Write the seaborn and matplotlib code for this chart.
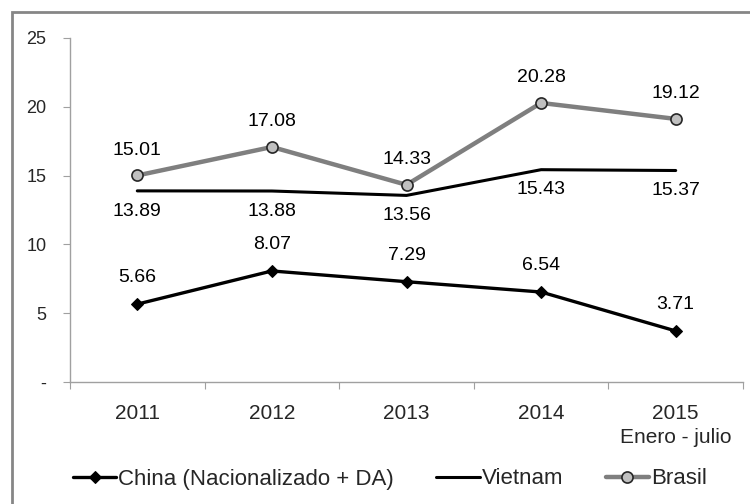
import matplotlib
matplotlib.use("Agg")
import matplotlib.pyplot as plt
import seaborn as sns
import pandas as pd
from matplotlib.patches import Rectangle
from matplotlib.ticker import FixedLocator, NullFormatter

categories = ["2011", "2012", "2013", "2014", "2015\nEnero - julio"]
china = [5.66, 8.07, 7.29, 6.54, 3.71]
vietnam = [13.89, 13.88, 13.56, 15.43, 15.37]
brasil = [15.01, 17.08, 14.33, 20.28, 19.12]
y_ticks = [0, 5, 10, 15, 20, 25]
y_tick_labels = ["-", "5", "10", "15", "20", "25"]

sns.set_style("white")
plt.rcParams["font.family"] = ["Liberation Sans", "DejaVu Sans"]

fig = plt.figure(figsize=(7.5, 5.04), dpi=100)
ax = fig.add_axes([70/750, 1-382/504, (743-70)/750, (382-38)/504])

pos = list(range(len(categories)))
df = pd.DataFrame({"x": pos, "China": china, "Vietnam": vietnam, "Brasil": brasil})

sns.lineplot(data=df, x="x", y="China", ax=ax, color="black", lw=2.4,
             marker="D", markersize=6, markeredgecolor="black",
             label="China (Nacionalizado + DA)")
sns.lineplot(data=df, x="x", y="Vietnam", ax=ax, color="black", lw=2.2,
             label="Vietnam")
sns.lineplot(data=df, x="x", y="Brasil", ax=ax, color="#7f7f7f", lw=3.2,
             marker="o", markersize=8, markerfacecolor="#c0c0c0",
             markeredgecolor="#262626", markeredgewidth=1.2, label="Brasil")

fs_lab = 14
for i in pos:
    ax.annotate(f"{china[i]:.2f}", (i, china[i]), xytext=(0, 19), textcoords="offset points",
                ha="center", va="center", fontsize=fs_lab, color="black")
    ax.annotate(f"{vietnam[i]:.2f}", (i, vietnam[i]), xytext=(0, -14.5), textcoords="offset points",
                ha="center", va="center", fontsize=fs_lab, color="black")
    ax.annotate(f"{brasil[i]:.2f}", (i, brasil[i]), xytext=(0, 18), textcoords="offset points",
                ha="center", va="center", fontsize=fs_lab, color="black")

ax.set_xlim(-0.5, len(categories) - 0.5)
ax.set_ylim(0, 25)
ax.set_yticks(y_ticks)
ax.set_yticklabels(y_tick_labels, fontsize=13)
ax.xaxis.set_major_locator(FixedLocator([p - 0.5 for p in pos] + [len(categories) - 0.5]))
ax.xaxis.set_major_formatter(NullFormatter())
ax.xaxis.set_minor_locator(FixedLocator(pos))
ax.set_xticklabels(categories, minor=True, fontsize=15, linespacing=1.35, va="top")
ax.tick_params(axis="x", which="minor", length=0, pad=16)
ax.tick_params(axis="x", which="major", length=5, color="#a0a0a0", direction="out", bottom=True)
ax.tick_params(axis="y", length=5, color="#a0a0a0", direction="out", left=True, pad=12)
ax.set_xlabel("")
ax.set_ylabel("")
for s in ["top", "right"]:
    ax.spines[s].set_visible(False)
for s in ["left", "bottom"]:
    ax.spines[s].set_color("#a0a0a0")
    ax.spines[s].set_linewidth(1.0)

leg = ax.legend(loc="center", ncol=3, frameon=False,
                fontsize=16, handlelength=1.95, handletextpad=0.1, columnspacing=1.9)
leg.set_bbox_to_anchor((390/750, 1-479/504), transform=fig.transFigure)

fig.patches.append(Rectangle((12/750, -0.1), 1.2, 1 - 12/504 + 0.1, transform=fig.transFigure,
                             fill=False, edgecolor="#868686", lw=2, figure=fig))

fig.savefig("out.png", dpi=100)
